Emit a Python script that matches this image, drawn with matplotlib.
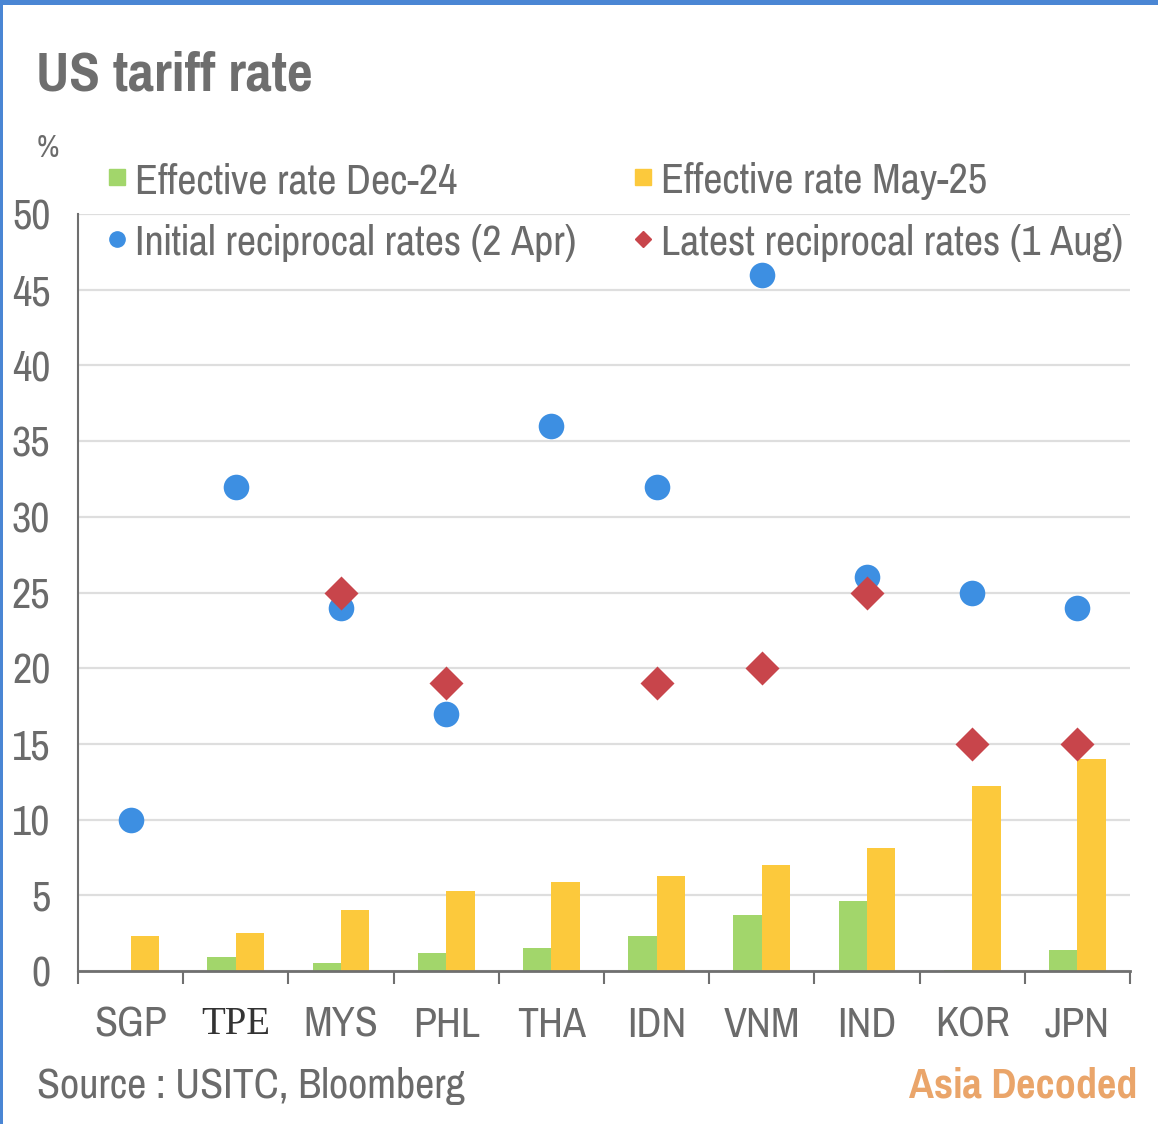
import matplotlib
matplotlib.use('Agg')
import matplotlib.pyplot as plt
from matplotlib.lines import Line2D
from matplotlib.patches import Rectangle
import numpy as np

countries = ["SGP", "TPE", "MYS", "PHL", "THA", "IDN", "VNM", "IND", "KOR", "JPN"]
eff_dec24 = [0.0, 0.9, 0.5, 1.2, 1.5, 2.3, 3.7, 4.6, 0.1, 1.4]
eff_may25 = [2.3, 2.5, 4.0, 5.3, 5.9, 6.3, 7.0, 8.1, 12.2, 14.0]
initial_apr = [10, 32, 24, 17, 36, 32, 46, 26, 25, 24]
latest_aug = [np.nan, np.nan, 25, 19, np.nan, 19, 20, 25, 15, 15]
yticks = list(range(0, 55, 5))

NARROW = ['Pragati Narrow', 'Archivo Narrow', 'Liberation Sans', 'DejaVu Sans']
TXT = '#6b6b6b'
GREEN = '#a2d66b'
YELLOW = '#fcc93c'
BLUE = '#3d8fe2'
RED = '#c8454b'

plt.rcParams['font.family'] = NARROW

fig = plt.figure(figsize=(11.58, 11.24), dpi=100)
fig.patch.set_facecolor('white')

ax = fig.add_axes([0.0674, 0.1361, 0.9084, 0.6735])
x = np.arange(len(countries))
w = 0.27
ax.bar(x - w / 2, eff_dec24, width=w, color=GREEN, zorder=2)
ax.bar(x + w / 2, eff_may25, width=w, color=YELLOW, zorder=2)
ax.scatter(x, initial_apr, s=340, color=BLUE, marker='o', zorder=3, linewidths=0)
ax.scatter(x, latest_aug, s=300, color=RED, marker='D', zorder=4, linewidths=0)

ax.set_xlim(-0.5, len(countries) - 0.5)
ax.set_ylim(0, 50)
ax.set_yticks(yticks)
ax.set_yticklabels([str(v) for v in yticks], fontsize=33, color=TXT)
ax.tick_params(axis='y', length=0, pad=20)
ax.yaxis.grid(True, color='#dedede', lw=1.6)
ax.set_axisbelow(True)

ax.set_xticks(np.arange(-0.5, len(countries), 1.0))
ax.set_xticklabels([])
ax.tick_params(axis='x', which='major', length=9, width=1.5, color='#6f6f6f', direction='out')
ax.set_xticks(x, minor=True)
ax.set_xticklabels(countries, minor=True, fontsize=33, color=TXT)
ax.tick_params(axis='x', which='minor', length=0, pad=25)
for lbl in ax.get_xticklabels(minor=True):
    if lbl.get_text() == 'TPE':
        lbl.set_family(['Liberation Serif', 'DejaVu Serif'])
        lbl.set_color('#333333')
        lbl.set_fontsize(28)

for s in ['top', 'right']:
    ax.spines[s].set_visible(False)
ax.spines['left'].set_color('#6f6f6f')
ax.spines['left'].set_linewidth(1.5)
ax.spines['bottom'].set_color('#6f6f6f')
ax.spines['bottom'].set_linewidth(2)

handles = [
    Line2D([], [], marker='s', ls='', color=GREEN, ms=11),
    Line2D([], [], marker='o', ls='', color=BLUE, ms=11),
    Line2D([], [], marker='s', ls='', color=YELLOW, ms=11),
    Line2D([], [], marker='D', ls='', color=RED, ms=8),
]
labels = ["Effective rate Dec-24", "Initial reciprocal rates (2 Apr)",
          "Effective rate May-25", "Latest reciprocal rates (1 Aug)"]
leg = fig.legend(handles, labels, ncol=2, loc='upper left',
                 bbox_to_anchor=(0.073, 0.8768), frameon=False, fontsize=33,
                 handlelength=0.4, handletextpad=0.2, columnspacing=1.25,
                 labelspacing=0.48, borderpad=0, labelcolor=TXT)

fig.text(0.031, 0.933, "US tariff rate", fontsize=44, fontweight='bold',
         color='#6e6e6e', ha='left', va='center')
fig.text(0.032, 0.868, "%", fontsize=24, color=TXT, ha='left', va='center')
fig.text(0.032, 0.034, "Source : USITC, Bloomberg", fontsize=33, color=TXT,
         ha='left', va='center')
fig.text(0.982, 0.034, "Asia Decoded", fontsize=33, fontweight='bold',
         color='#eaa56a', ha='right', va='center')

# blue frame edges
fig.add_artist(Rectangle((0, 0.9955), 1, 0.0045, transform=fig.transFigure,
                         color='#4a86d4', lw=0))
fig.add_artist(Rectangle((0, 0), 0.0026, 1, transform=fig.transFigure,
                         color='#4a86d4', lw=0))

fig.savefig('out.png', dpi=100)
